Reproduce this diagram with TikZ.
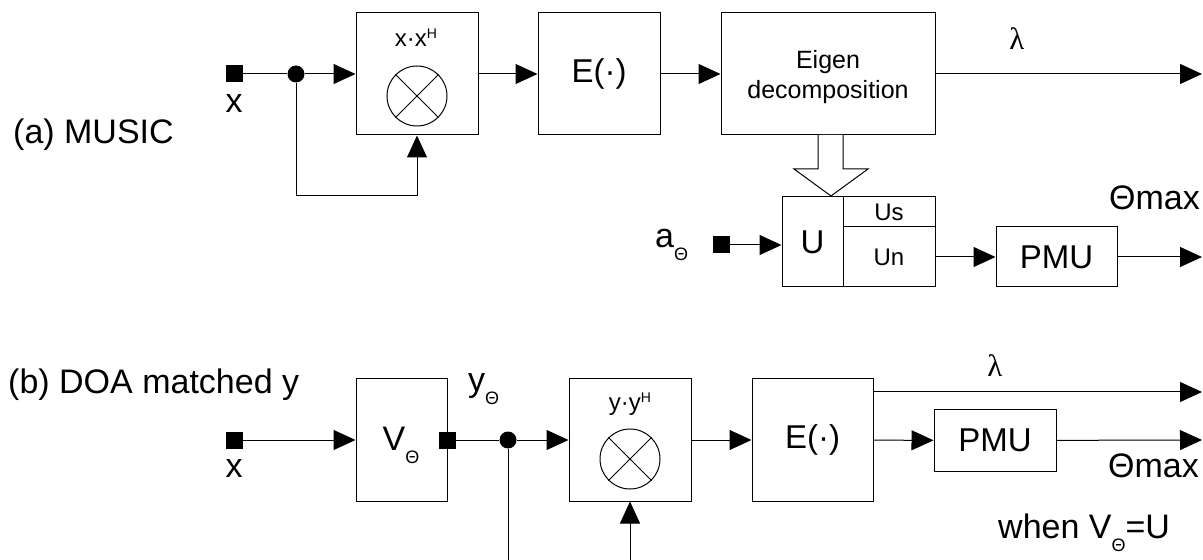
\documentclass[tikz,border=0pt]{standalone}
\usepackage{fontspec}
\setmainfont{Liberation Sans}
\newfontfamily\serifgr{Liberation Serif}
\usetikzlibrary{arrows.meta}

\newcommand{\bigf}{\fontsize{34bp}{40bp}\selectfont}
\newcommand{\boxf}{\fontsize{33bp}{40bp}\selectfont}
\newcommand{\midf}{\fontsize{24bp}{30bp}\selectfont}
\newcommand{\eigf}{\fontsize{25bp}{30bp}\selectfont}
\newcommand{\lamf}{\serifgr\fontsize{31bp}{34bp}\selectfont}
\newcommand{\lowsub}[1]{\raisebox{-13bp}{\fontsize{18bp}{18bp}\selectfont #1}}
\newcommand{\highsup}[1]{\raisebox{8bp}{\fontsize{14bp}{14bp}\selectfont #1}}

\tikzset{
  blk/.style={draw, line width=1bp, inner sep=0pt, font=\boxf},
  srcsq/.style={fill=black, minimum size=17bp, inner sep=0pt},
  jdot/.style={circle, fill=black, minimum size=17bp, inner sep=0pt},
  mix/.style={circle, draw, line width=1bp, minimum size=60bp, inner sep=0pt},
  wire/.style={line width=1bp},
  sig/.style={wire, -{Triangle[length=22bp,width=20bp]}},
  lbl/.style={inner sep=0pt, font=\bigf},
}

\begin{document}
\begin{tikzpicture}[x=1bp, y=-1bp]
    \useasboundingbox (0,0) rectangle (1203,560);

    % ---------------------------------------------------
    % (a) MUSIC
    % ---------------------------------------------------
    \node[lbl, anchor=base west] (titleA) at (13,144) {(a) MUSIC};

    % input x and junction
    \node[srcsq] (srcA) at (234,74) {};
    \node[lbl, anchor=base] (xA) at (234,113) {x};
    \node[jdot] (dotA) at (296,74) {};

    % multiplier x.x^H
    \node[blk, minimum width=122bp, minimum height=122bp] (mulA) at (417,74) {};
    \node[inner sep=0pt, font=\midf, anchor=base] (covA) at (416,47) {x·x\highsup{H}};
    \node[mix] (mixA) at (417,96) {};
    \draw[wire] (mixA.45) -- (mixA.225) (mixA.135) -- (mixA.-45);

    % expectation and eigen decomposition
    \node[blk, minimum width=122bp, minimum height=122bp] (expA) at (599,74) {E(·)};
    \node[blk, minimum width=214bp, minimum height=122bp] (eig) at (828,74) {};
    \node[inner sep=0pt, font=\eigf, align=center] (eigtxt) at (828,77) {Eigen\\decomposition};

    % U block: U | Us / Un
    \node[blk, minimum width=61bp, minimum height=90bp] (uL) at (812.5,242) {U};
    \node[blk, font=\midf, minimum width=92bp, minimum height=30bp] (uS) at (889,212) {Us};
    \node[blk, font=\midf, minimum width=92bp, minimum height=60bp] (uN) at (889,257) {Un};

    % hollow arrow from eigen box to U
    \draw[wire, fill=white] (818,135) -- (818,169) -- (794,169) -- (831,196)
        -- (868,169) -- (843,169) -- (843,135);

    % steering vector input
    \node[srcsq] (aS) at (721.5,245) {};
    \node[lbl, anchor=base west] (aLbl) at (655,248) {a\lowsub{Θ}};

    % spectrum
    \node[blk, minimum width=121bp, minimum height=60bp] (pmuA) at (1056.5,257) {PMU};

    % outputs
    \coordinate (lamA) at (1202,74);
    \coordinate (thA) at (1202,257);
    \coordinate (fbA) at (417,196);
    \node[inner sep=0pt, font=\lamf, anchor=base] (lamAl) at (1017,50) {λ};
    \node[lbl, anchor=base west] (thAl) at (1109,210) {Θmax};

    % connections
    \draw[wire] (srcA) -- (dotA);
    \draw[sig] (dotA) -- (mulA);
    \draw[sig] (dotA) |- (fbA) -- (mulA.south);
    \draw[sig] (mulA) -- (expA);
    \draw[sig] (expA) -- (eig);
    \draw[sig] (eig) -- (lamA);
    \draw[sig] (aS) -- (aS -| uL.west);
    \draw[sig] (uN) -- (pmuA);
    \draw[sig] (pmuA) -- (thA);

    % ---------------------------------------------------
    % (b) DOA matched y
    % ---------------------------------------------------
    \node[lbl, anchor=base west] (titleB) at (8,393) {(b) DOA matched y};

    \node[srcsq] (srcB) at (234,440) {};
    \node[lbl, anchor=base] (xB) at (234,477) {x};

    % steering matrix V
    \node[blk, minimum width=91bp, minimum height=122bp] (vBox) at (401.5,440) {};
    \node[lbl, anchor=base] (vLbl) at (401,450) {V\lowsub{Θ}};
    \node[srcsq] (vOut) at (vBox.east) {};
    \node[lbl, anchor=base west] (yLbl) at (468,391) {y\lowsub{Θ}};
    \node[jdot] (dotB) at (508,440) {};

    % multiplier y.y^H
    \node[blk, minimum width=122bp, minimum height=122bp] (mulB) at (630,440) {};
    \node[inner sep=0pt, font=\midf, anchor=base] (covB) at (630,410) {y·y\highsup{H}};
    \node[mix] (mixB) at (630,459) {};
    \draw[wire] (mixB.45) -- (mixB.225) (mixB.135) -- (mixB.-45);

    \node[blk, minimum width=121bp, minimum height=122bp] (expB) at (812.5,440) {E(·)};
    \node[blk, minimum width=122bp, minimum height=61bp] (pmuB) at (995,440.5) {PMU};

    % outputs
    \coordinate (lamB) at (1202,392);
    \coordinate (thB) at (1202,440);
    \coordinate (downB) at (508,560);
    \coordinate (upB) at (630,560);
    \node[inner sep=0pt, font=\lamf, anchor=base] (lamBl) at (995,377) {λ};
    \node[lbl, anchor=base west] (thBl) at (1108,477) {Θmax};
    \node[lbl, anchor=base west] (when) at (998,538) {when V\lowsub{Θ}=U};

    % connections
    \draw[sig] (srcB) -- (vBox);
    \draw[wire] (vOut) -- (dotB);
    \draw[sig] (dotB) -- (mulB);
    \draw[wire] (dotB) -- (downB);
    \draw[sig] (upB) -- (mulB.south);
    \draw[sig] (mulB) -- (expB);
    \draw[sig] (lamB -| expB.east) -- (lamB);
    \draw[sig] (expB) -- (pmuB);
    \draw[sig] (pmuB) -- (thB);

\end{tikzpicture}
\end{document}
